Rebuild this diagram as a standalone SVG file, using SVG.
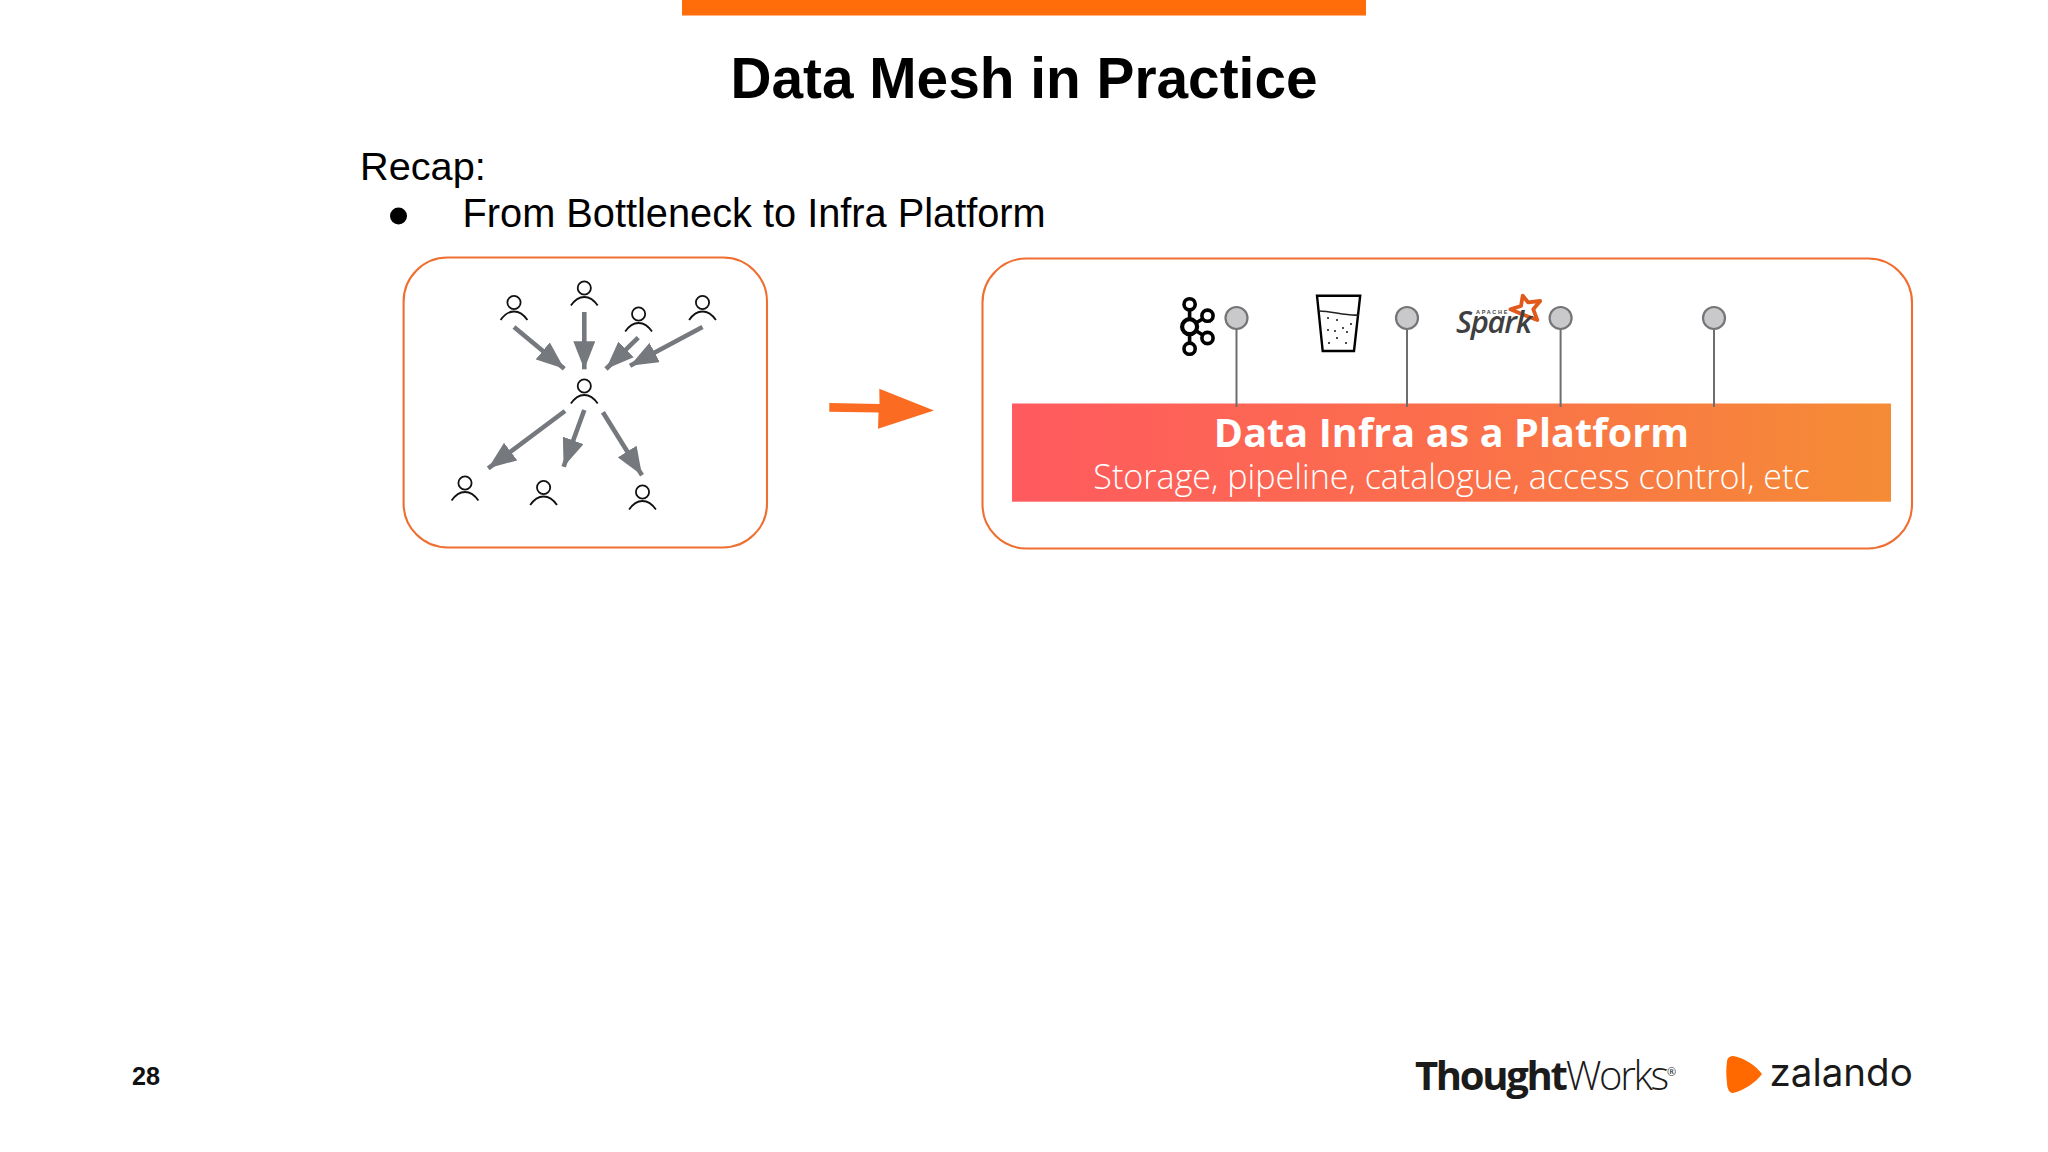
<svg xmlns="http://www.w3.org/2000/svg" width="2048" height="1152" viewBox="0 0 2048 1152">
<style>
.box{fill:#fff;stroke:#ee6f30;stroke-width:2.1}
.ar{fill:none;stroke:#75797e;stroke-width:4.6}
.arh{fill:#75797e}
.hd{fill:none;stroke:#111;stroke-width:1.8}
.pin{fill:#c9c9cc;stroke:#757578;stroke-width:2.2}
.pl{stroke:#6e6e70;stroke-width:2}
.k{fill:none;stroke:#000;stroke-width:3.6}
.s{font-family:"Liberation Sans",Arial,sans-serif}
.o{font-family:"Open Sans",sans-serif;fill:#fff;text-anchor:middle}
</style>
<defs>
<linearGradient id="g" x1="0" x2="1" y1="0" y2="0"><stop offset="0" stop-color="#ff5a5f"/><stop offset="0.5" stop-color="#fb6f4b"/><stop offset="1" stop-color="#f58c35"/></linearGradient>
<g id="person"><circle class="hd" cx="0" cy="0" r="6.6"/><path class="hd" d="M-13.4 17.6C-9 11 -4 9 0 9C4 9 9 11 13.4 17.6"/></g>
<marker id="ah" markerUnits="userSpaceOnUse" markerWidth="30" markerHeight="22" refX="28" refY="11" orient="auto"><path class="arh" d="M0 0L28 11L0 22Z"/></marker>
</defs>
<rect width="2048" height="1152" fill="#fff"/>
<rect id="topbar" x="682" y="0" width="684" height="15.5" fill="#ff6c0a"/>
<text id="title" class="s" x="1024" y="98" font-size="56.8" font-weight="700" text-anchor="middle" fill="#000">Data Mesh in Practice</text>
<text id="recap" class="s" x="360" y="180" font-size="39.7" fill="#000">Recap:</text>
<ellipse id="bullet" cx="398.5" cy="216" rx="8.5" ry="8.5" fill="#000"/>
<text id="b1" class="s" x="462.5" y="227" font-size="39.75" fill="#000">From Bottleneck to Infra Platform</text>

<g id="left-panel">
<rect class="box" x="403.6" y="257.5" width="363.4" height="290" rx="44" ry="44"/>
</g>
<g id="p1"><use href="#person" x="514" y="302.5"/></g>
<g id="p2"><use href="#person" x="584.3" y="288"/></g>
<g id="p3"><use href="#person" x="638.6" y="314"/></g>
<g id="p4"><use href="#person" x="702.5" y="302.5"/></g>
<g id="pc"><use href="#person" x="584.3" y="386"/></g>
<g id="b-1"><use href="#person" x="465" y="483"/></g>
<g id="b-2"><use href="#person" x="543.6" y="487.5"/></g>
<g id="b-3"><use href="#person" x="642.5" y="492"/></g>

<g id="right-panel">
<rect class="box" x="982.5" y="258.5" width="929.5" height="290" rx="44" ry="44"/>
</g>
<g id="platform">
<rect x="1012" y="403.5" width="879" height="98.2" fill="url(#g)"/>
<text class="o" x="1451.5" y="447.3" font-size="39.5" font-weight="700" letter-spacing="0.1">Data Infra as a Platform</text>
<text class="o" x="1451.5" y="489" font-size="34.1" font-weight="300">Storage, pipeline, catalogue, access control, etc</text>
</g>

<g id="connectors">
<path class="ar" marker-end="url(#ah)" d="M514 327L564.3 368.7"/>
<path class="ar" marker-end="url(#ah)" d="M584.3 312L584.3 369.3"/>
<path class="ar" marker-end="url(#ah)" d="M638.2 337.7L606 369"/>
<path class="ar" marker-end="url(#ah)" d="M702.5 327L630 365.7"/>
<path class="ar" marker-end="url(#ah)" d="M565 411L488.2 468.3"/>
<path class="ar" marker-end="url(#ah)" d="M584.3 410L563.6 466.7"/>
<path class="ar" marker-end="url(#ah)" d="M602.9 412.3L642 475.3"/>
<path d="M829.3 403L879.5 404L879.3 388.7L934 410.5L878 428.7L878.5 412.5L829.3 411.8Z" fill="#fb6c22"/>
<path class="pl" d="M1236.5 329V407M1407 329V407M1560.6 329V407M1714 329V407"/>
</g>

<g id="pin1"><ellipse class="pin" cx="1236.5" cy="318" rx="11" ry="11"/></g>
<g id="pin2"><ellipse class="pin" cx="1407" cy="318" rx="11" ry="11"/></g>
<g id="pin3"><ellipse class="pin" cx="1560.6" cy="318" rx="11" ry="11"/></g>
<g id="pin4"><ellipse class="pin" cx="1714" cy="318" rx="11" ry="11"/></g>

<g id="kafka">
<path class="k" d="M1189.6 310V343M1189.6 326.7L1207.5 316M1189.6 326.7L1207.5 338"/>
<circle cx="1189.6" cy="326.7" r="7.5" fill="#fff" stroke="#000" stroke-width="4.2"/>
<circle cx="1189.6" cy="304.3" r="5.6" fill="#fff" stroke="#000" stroke-width="3.6"/>
<circle cx="1189.6" cy="348.7" r="5.6" fill="#fff" stroke="#000" stroke-width="3.6"/>
<circle cx="1207.5" cy="315.7" r="5.6" fill="#fff" stroke="#000" stroke-width="3.6"/>
<circle cx="1207.5" cy="338" r="5.6" fill="#fff" stroke="#000" stroke-width="3.6"/>
</g>
<g id="lake">
<path d="M1317 295.7H1360.2L1354 351H1322.7Z" fill="#fff" stroke="#000" stroke-width="2.4"/>
<path d="M1319 311C1332 311 1345 316 1358.5 315" fill="none" stroke="#222" stroke-width="1.6"/>
<g fill="#111"><circle cx="1328" cy="318" r="1"/><circle cx="1337" cy="320" r="1"/><circle cx="1351" cy="324" r="1"/><circle cx="1328" cy="330" r="1"/><circle cx="1343" cy="328" r="1"/><circle cx="1335" cy="331" r="1"/><circle cx="1347" cy="332" r="1"/><circle cx="1337" cy="338" r="1"/><circle cx="1329" cy="343" r="1"/><circle cx="1346" cy="343" r="1"/></g>
</g>
<g id="spark">
<path d="M1522.7 295.7L1528 302.3L1540.2 301L1533.3 309.3L1537.3 320L1524 315L1510.4 309.3L1521 306Z" fill="#fff" stroke="#e2591c" stroke-width="3.8" stroke-linejoin="round"/>
<text x="1476" y="314" font-family="Liberation Sans,sans-serif" font-size="5.5" font-weight="700" fill="#444" letter-spacing="1.7">APACHE</text>
<text x="1456" y="333" font-family="Open Sans,sans-serif" font-size="31" font-weight="600" font-style="italic" fill="#3f3f42" letter-spacing="-1.3">Spark</text>
</g>

<text id="page" class="s" x="132" y="1085" font-size="25.2" font-weight="700" fill="#111">28</text>
<g id="thoughtworks">
<text x="1415" y="1090" font-family="Open Sans,sans-serif" font-size="40" fill="#1b1b1b" letter-spacing="-2.3"><tspan font-weight="700">Thought</tspan><tspan font-weight="300">Works</tspan><tspan font-size="11" dy="-14" letter-spacing="0">®</tspan></text>
</g>
<g id="zalando">
<path d="M1733 1056C1745 1058 1756 1066 1762 1074C1756 1082 1745 1090 1733 1093C1729 1093 1727 1088 1727 1083C1726 1075 1726 1068 1727 1062C1727 1058 1730 1056 1733 1056Z" fill="#ff6900"/>
<text x="1769.5" y="1086" font-family="Inter,sans-serif" font-size="38.5" fill="#1a1a1a">zalando</text>
</g>
</svg>
